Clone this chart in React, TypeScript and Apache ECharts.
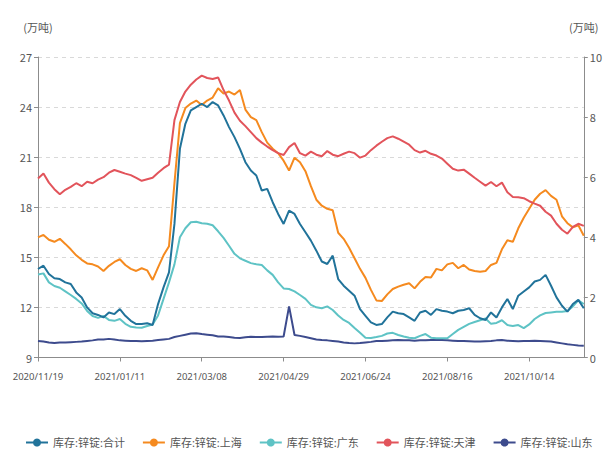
import React, { useEffect, useRef } from "react";
import * as echarts from "echarts";

const dates = [
  "2020/11/19","2020/11/23","2020/11/26","2020/11/30","2020/12/03","2020/12/07","2020/12/10","2020/12/14","2020/12/17","2020/12/21",
  "2020/12/24","2020/12/28","2020/12/31","2021/01/04","2021/01/07","2021/01/11","2021/01/14","2021/01/18","2021/01/21","2021/01/25",
  "2021/01/28","2021/02/01","2021/02/04","2021/02/08","2021/02/11","2021/02/18","2021/02/22","2021/02/25","2021/03/01","2021/03/04",
  "2021/03/08","2021/03/11","2021/03/15","2021/03/18","2021/03/22","2021/03/25","2021/03/29","2021/04/01","2021/04/06","2021/04/08",
  "2021/04/12","2021/04/15","2021/04/19","2021/04/22","2021/04/26","2021/04/29","2021/05/06","2021/05/10","2021/05/13","2021/05/17",
  "2021/05/20","2021/05/24","2021/05/27","2021/05/31","2021/06/03","2021/06/07","2021/06/10","2021/06/15","2021/06/17","2021/06/21",
  "2021/06/24","2021/06/28","2021/07/01","2021/07/05","2021/07/08","2021/07/12","2021/07/15","2021/07/19","2021/07/22","2021/07/26",
  "2021/07/29","2021/08/02","2021/08/05","2021/08/09","2021/08/12","2021/08/16","2021/08/19","2021/08/23","2021/08/26","2021/08/30",
  "2021/09/02","2021/09/06","2021/09/09","2021/09/13","2021/09/16","2021/09/23","2021/09/27","2021/09/30","2021/10/08","2021/10/11",
  "2021/10/14","2021/10/18","2021/10/21","2021/10/25","2021/10/28","2021/11/01","2021/11/04","2021/11/08","2021/11/11","2021/11/15",
  "2021/11/18"
];

// 库存:锌锭:合计 (left axis)
const totalInv = [
  14.3,14.5,14.0,13.75,13.7,13.5,13.4,12.9,12.6,12.0,
  11.65,11.55,11.4,11.7,11.6,11.9,11.5,11.2,11.0,11.0,
  11.05,10.95,12.2,13.2,14.1,17.0,21.5,23.0,23.8,24.0,
  24.2,24.0,24.3,24.1,23.5,22.8,22.2,21.5,20.7,20.2,
  19.9,19.0,19.1,18.3,17.6,17.0,17.8,17.6,17.0,16.5,
  16.0,15.4,14.75,14.6,15.1,13.7,13.3,13.0,12.7,11.9,
  11.5,11.1,10.95,11.0,11.4,11.75,11.65,11.6,11.4,11.2,
  11.7,11.8,11.55,11.9,11.8,11.75,11.65,11.8,11.85,11.95,
  11.55,11.35,11.25,11.7,11.4,12.0,12.5,11.9,12.7,12.95,
  13.2,13.55,13.65,13.95,13.3,12.6,12.1,11.75,12.2,12.45,
  11.95
];

// 库存:锌锭:上海 (right axis)
const shanghaiInv = [
  4.0,4.08,3.92,3.85,3.95,3.78,3.6,3.4,3.25,3.13,
  3.1,3.03,2.88,3.05,3.18,3.27,3.08,2.95,2.88,2.97,
  2.9,2.58,3.0,3.4,3.7,5.8,7.8,8.3,8.45,8.55,
  8.4,8.55,8.65,8.96,8.78,8.85,8.75,8.9,8.25,8.0,
  7.9,7.5,7.15,6.95,6.8,6.55,6.22,6.65,6.5,6.2,
  5.7,5.25,5.05,4.95,4.9,4.15,3.95,3.65,3.3,2.95,
  2.65,2.25,1.9,1.88,2.1,2.28,2.36,2.42,2.47,2.3,
  2.52,2.68,2.66,2.95,2.9,3.1,3.15,2.97,3.08,2.93,
  2.88,2.85,2.88,3.08,3.15,3.6,3.9,3.85,4.3,4.65,
  4.95,5.25,5.45,5.57,5.38,5.25,4.7,4.47,4.33,4.4,
  4.05
];

// 库存:锌锭:广东 (right axis)
const guangdongInv = [
  2.76,2.8,2.5,2.38,2.32,2.2,2.08,1.95,1.8,1.55,
  1.38,1.32,1.38,1.25,1.22,1.28,1.12,1.02,1.0,0.99,
  1.05,1.1,1.4,1.95,2.5,3.1,4.0,4.3,4.5,4.52,
  4.47,4.45,4.4,4.2,3.98,3.72,3.45,3.3,3.22,3.14,
  3.1,3.08,2.9,2.75,2.5,2.3,2.28,2.2,2.08,1.95,
  1.75,1.67,1.64,1.7,1.58,1.4,1.25,1.15,0.98,0.82,
  0.66,0.65,0.68,0.72,0.8,0.82,0.75,0.7,0.66,0.64,
  0.72,0.78,0.66,0.64,0.64,0.64,0.78,0.92,1.02,1.12,
  1.18,1.24,1.3,1.12,1.15,1.24,1.08,1.05,1.08,0.98,
  1.1,1.28,1.4,1.48,1.5,1.52,1.52,1.55,1.7,1.9,
  1.78
];

// 库存:锌锭:天津 (right axis)
const tianjinInv = [
  5.96,6.12,5.82,5.6,5.43,5.58,5.68,5.8,5.7,5.85,
  5.8,5.92,6.0,6.15,6.24,6.18,6.12,6.07,5.98,5.88,
  5.93,5.98,6.15,6.3,6.42,7.9,8.5,8.85,9.08,9.25,
  9.38,9.3,9.27,9.32,8.9,8.55,8.15,7.88,7.7,7.5,
  7.3,7.15,7.02,6.9,6.8,6.74,7.0,7.14,6.8,6.72,
  6.85,6.75,6.7,6.87,6.75,6.7,6.78,6.85,6.8,6.65,
  6.72,6.9,7.05,7.18,7.3,7.36,7.28,7.18,7.08,6.9,
  6.82,6.88,6.78,6.72,6.62,6.45,6.28,6.22,6.25,6.12,
  5.98,5.85,5.72,5.84,5.7,5.82,5.5,5.34,5.33,5.3,
  5.2,5.12,5.05,4.85,4.72,4.45,4.25,4.12,4.35,4.45,
  4.38
];

// 库存:锌锭:山东 (right axis)
const shandongInv = [
  0.55,0.53,0.5,0.48,0.5,0.5,0.51,0.52,0.53,0.55,
  0.57,0.6,0.6,0.62,0.6,0.57,0.56,0.55,0.55,0.54,
  0.55,0.56,0.58,0.6,0.62,0.68,0.72,0.76,0.8,0.81,
  0.78,0.76,0.74,0.7,0.7,0.68,0.66,0.65,0.67,0.69,
  0.68,0.68,0.69,0.7,0.69,0.7,1.7,0.75,0.72,0.68,
  0.64,0.6,0.58,0.57,0.55,0.53,0.5,0.48,0.47,0.48,
  0.5,0.52,0.55,0.55,0.56,0.57,0.58,0.57,0.57,0.56,
  0.57,0.57,0.58,0.58,0.58,0.57,0.56,0.55,0.55,0.54,
  0.53,0.53,0.54,0.55,0.57,0.58,0.56,0.55,0.54,0.55,
  0.55,0.56,0.55,0.54,0.53,0.5,0.47,0.44,0.42,0.4,
  0.39
];

const seriesNames = ["库存:锌锭:合计", "库存:锌锭:上海", "库存:锌锭:广东", "库存:锌锭:天津", "库存:锌锭:山东"];
const seriesColors = ["#21739a", "#f58a1f", "#5ec3c5", "#e2545b", "#3d4b8d"];

export default function App() {
  const ref = useRef<HTMLDivElement>(null);
  useEffect(() => {
    if (!ref.current) return;
    const chart = echarts.init(ref.current, null, { renderer: "svg" });
    const dataSets = [totalInv, shanghaiInv, guangdongInv, tianjinInv, shandongInv];
    const axisIdx = [0, 1, 1, 1, 1];
    const font = "'Noto Sans CJK SC', 'Noto Sans', sans-serif";
    chart.setOption({
      animation: false,
      textStyle: { fontFamily: font },
      grid: { left: 38, right: 19, top: 57, bottom: 92.5, containLabel: false },
      legend: {
        bottom: 2,
        left: 25,
        width: 800,
        padding: 0,
        itemWidth: 22,
        itemHeight: 10,
        itemGap: 17,
        textStyle: {
          fontSize: 11,
          color: "#555",
          fontFamily: "'Noto Sans', 'Noto Sans CJK SC', sans-serif",
        },
        data: seriesNames,
      },
      xAxis: {
        type: "category",
        data: dates,
        boundaryGap: false,
        axisLine: { lineStyle: { color: "#8c8c8c" } },
        axisTick: { interval: 14, length: 4, lineStyle: { color: "#8c8c8c" } },
        axisLabel: {
          interval: 14,
          fontSize: 9.5,
          color: "#555",
          margin: 14,
          fontFamily: "'Noto Sans', sans-serif",
        },
      },
      yAxis: [
        {
          type: "value",
          min: 9,
          max: 27,
          interval: 3,
          name: "(万吨)",
          nameGap: 25,
          nameTextStyle: { fontSize: 11, color: "#555" },
          axisLine: { show: true, lineStyle: { color: "#8c8c8c" } },
          axisTick: { show: true, length: 4, lineStyle: { color: "#8c8c8c" } },
          axisLabel: { fontSize: 11, color: "#555", margin: 6 },
          splitLine: { show: true, lineStyle: { color: "#d9d9d9", type: [4, 4] } },
        },
        {
          type: "value",
          min: 0,
          max: 10,
          interval: 2,
          name: "(万吨)",
          nameGap: 25,
          nameTextStyle: { fontSize: 11, color: "#555" },
          axisLine: { show: true, lineStyle: { color: "#8c8c8c" } },
          axisTick: { show: true, length: 4, lineStyle: { color: "#8c8c8c" } },
          axisLabel: { fontSize: 11, color: "#555", margin: 6 },
          splitLine: { show: false },
        },
      ],
      series: seriesNames.map((name, i) => ({
        name,
        type: "line",
        yAxisIndex: axisIdx[i],
        data: dataSets[i],
        symbol: "circle",
        symbolSize: 7,
        showSymbol: false,
        lineStyle: { width: 2, color: seriesColors[i] },
        itemStyle: { color: seriesColors[i] },
        z: [5, 3, 2, 4, 1][i],
      })),
    });
    return () => chart.dispose();
  }, []);
  return (
    <div
      ref={ref}
      style={{ position: "absolute", left: 0, top: 0, width: 605, height: 450 }}
    />
  );
}
